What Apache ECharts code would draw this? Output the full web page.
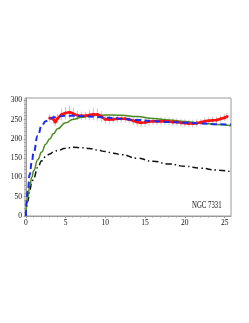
<!DOCTYPE html>
<html><head><meta charset="utf-8">
<script src="https://cdn.jsdelivr.net/npm/echarts@6/dist/echarts.min.js"></script>
<style>html,body{margin:0;padding:0;background:#fff}#c{width:249px;height:323px}</style>
</head><body><div id="c"></div>
<script>
// Model curves
var modelR   = [0, 0.25, 0.5, 0.75, 1, 1.5, 2, 2.5, 3, 3.5, 4, 5, 6, 7, 8, 9, 10, 11, 12, 14, 16, 18, 20, 22, 24, 25.8];
var vTotal   = [0, 65, 108, 140, 166, 208, 234, 246, 252, 256, 258, 260, 260, 259, 258, 257, 255, 254, 252, 249, 246, 244, 242, 240, 238, 237];
var vFit     = [0, 48, 78, 100, 118, 146, 166, 186, 200, 214, 226, 242, 251, 256, 259, 261, 262, 262, 261, 258, 253, 249, 245, 241, 237, 234];
var vComp    = [0, 38, 68, 86, 99, 126, 143, 154, 161, 166, 170, 176, 178, 177, 175, 171, 167, 163, 159, 150, 142, 135, 129, 124, 119, 115];
// Observed rotation curve
var obsR   = [3.0,3.5,3.7,4.0,4.5,5.0,5.5,6.0,6.5,7.0,7.5,8.0,8.5,9.0,9.5,10.0,10.5,11.0,11.5,12.0,12.5,13.0,13.5,14.0,14.5,15.0,15.5,16.0,16.5,17.0,17.5,18.0,18.5,19.0,19.5,20.0,20.5,21.0,21.5,22.0,22.5,23.0,23.5,24.0,24.5,25.0,25.3];
var obsV   = [254,250,244,253,263,267,269,265,261,260,260,262,264,263,258,251,250,251,252,252,252,250,247,244,242,243,245,246,246,246,246,245,244,244,242,241,240,240,241,243,246,247,248,249,252,255,258];
var obsErr = [10,12,12,12,15,16,16,15,12,11,10,14,16,16,14,12,11,10,10,10,10,10,11,12,12,12,11,10,10,10,10,10,10,10,10,10,10,10,10,9,9,9,9,9,9,9,9];
var xTicks = [0,5,10,15,20,25];
var yTicks = [0,50,100,150,200,250,300];
var label = 'NGC 7331';

function pairs(xs, ys){ return xs.map(function(x,i){return [x, ys[i]];}); }
var errData = obsR.map(function(x,i){return [x, obsV[i]-obsErr[i], obsV[i]+obsErr[i]];});

var chart = echarts.init(document.getElementById('c'), null, {renderer:'canvas'});
var font = 'Liberation Serif, Times New Roman, serif';
chart.setOption({
  animation:false,
  grid:{left:25,right:18,top:98,bottom:107,show:true,borderColor:'#9a9a9a',borderWidth:1,backgroundColor:'transparent'},
  xAxis:{type:'value',min:-0.1,max:25.8,interval:5,
    axisLine:{show:true,onZero:false,lineStyle:{color:'#9a9a9a'}},
    axisTick:{show:true,length:2,lineStyle:{color:'#9a9a9a'},customValues:xTicks},
    minorTick:{show:true,splitNumber:5,length:1.5,lineStyle:{color:'#9a9a9a'}},
    splitLine:{show:false},
    axisLabel:{color:'#111',fontFamily:font,fontSize:7.5,margin:3,customValues:xTicks}},
  yAxis:{type:'value',min:0,max:306,interval:50,
    axisLine:{show:true,lineStyle:{color:'#9a9a9a'}},
    axisTick:{show:true,length:2,lineStyle:{color:'#9a9a9a'},customValues:yTicks},
    minorTick:{show:true,splitNumber:5,length:1.5,lineStyle:{color:'#9a9a9a'}},
    splitLine:{show:false},
    axisLabel:{color:'#111',fontFamily:font,fontSize:7.5,margin:3,customValues:yTicks}},
  graphic:[{type:'text',x:192,y:205,scaleX:0.68,style:{text:label,font:'10px '+font,fill:'#111',textVerticalAlign:'middle'}}],
  series:[
    {type:'custom',data:errData,z:1,
      renderItem:function(params,api){
        var a=api.coord([api.value(0),api.value(1)]);
        var b=api.coord([api.value(0),api.value(2)]);
        return {type:'line',shape:{x1:a[0],y1:a[1],x2:b[0],y2:b[1]},style:{stroke:'#c8c8c8',lineWidth:1}};
      }},
    {type:'line',data:pairs(modelR,vComp),smooth:0.5,smoothMonotone:'x',showSymbol:false,z:2,
      lineStyle:{color:'#111',width:1.5,type:[6,3,1.5,3]}},
    {type:'line',data:pairs(modelR,vFit),smooth:0.5,smoothMonotone:'x',showSymbol:false,z:3,
      lineStyle:{color:'#4d8a1f',width:1.5}},
    {type:'line',data:pairs(obsR,obsV),smooth:0.4,symbol:'circle',symbolSize:3,showSymbol:true,z:4,
      itemStyle:{color:'#ff1010'},lineStyle:{color:'#ff1010',width:2.5}},
    {type:'line',data:pairs(modelR,vTotal),smooth:0.5,smoothMonotone:'x',showSymbol:false,z:5,
      lineStyle:{color:'#1a2cf0',width:2,type:[6,3.5]}}
  ]
});
</script></body></html>
